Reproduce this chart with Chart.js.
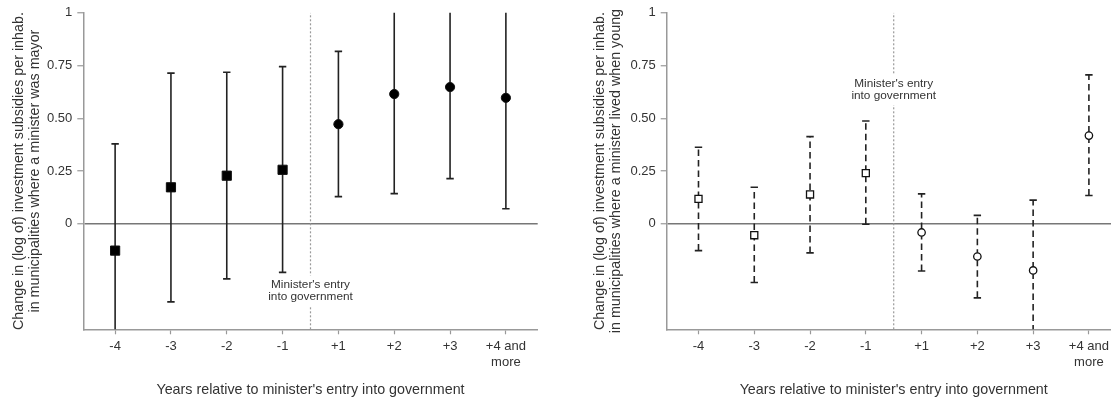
<!DOCTYPE html>
<html><head><meta charset="utf-8">
<script src="https://cdn.jsdelivr.net/npm/chart.js@4.4.1/dist/chart.umd.min.js"></script>
<style>
html,body{margin:0;padding:0;background:#fff;overflow:hidden}
#wrap{position:relative;width:1111px;height:402px;overflow:hidden;background:#fff}
#c1{position:absolute;left:0;top:0}
#c2{position:absolute;left:560px;top:0}
</style></head><body>
<div id="wrap"><canvas id="c1" width="560" height="402"></canvas><canvas id="c2" width="580" height="402"></canvas></div>
<script>
// ---- data ----
const categories = ['-4', '-3', '-2', '-1', '+1', '+2', '+3', ['+4 and', 'more']];
const entryPos = 3.5; // between -1 and +1
const yTicks = [0, 0.25, 0.5, 0.75, 1];
const yTickLabels = ['0', '0.25', '0.50', '0.75', '1'];
const xTitle = "Years relative to minister's entry into government";
const noteLines = ["Minister's entry", 'into government'];

// Panel A: municipalities where a minister was mayor
const mayorTitle = ['Change in (log of) investment subsidies per inhab.', 'in municipalities where a minister was mayor'];
const mayorEst = [-0.127, 0.173, 0.228, 0.256, 0.472, 0.615, 0.648, 0.597];
const mayorLo  = [-0.63, -0.370, -0.261, -0.230, 0.129, 0.143, 0.214, 0.071];
const mayorHi  = [0.379, 0.714, 0.718, 0.745, 0.817, 1.09, 1.08, 1.12];
const mayorNoteY = -0.318;

// Panel B: municipalities where a minister lived when young
const youngTitle = ['Change in (log of) investment subsidies per inhab.', 'in municipalities where a minister lived when young'];
const youngEst = [0.118, -0.054, 0.139, 0.240, -0.041, -0.155, -0.221, 0.418];
const youngLo  = [-0.127, -0.278, -0.138, -0.002, -0.224, -0.351, -0.56, 0.134];
const youngHi  = [0.363, 0.173, 0.413, 0.487, 0.142, 0.040, 0.112, 0.706];
const youngNoteY = 0.636;

// ---- rendering ----
Chart.defaults.font.family = '"Liberation Sans", Arial, Helvetica, sans-serif';
Chart.defaults.font.size = 13;
Chart.defaults.color = '#333';

const notePlugin = {
  id: 'note',
  afterDatasetsDraw(chart, args, opts) {
    const {ctx, scales: {x, y}} = chart;
    const px = x.getPixelForValue(entryPos);
    const py = y.getPixelForValue(opts.y);
    const lh = 11.4;
    ctx.save();
    ctx.font = '11.8px "Liberation Sans", Arial, sans-serif';
    const w = Math.max(...noteLines.map(t => ctx.measureText(t).width));
    ctx.fillStyle = '#fff';
    ctx.fillRect(px - w / 2 - 2, py - lh - 4, w + 4, 2 * lh + 8);
    ctx.fillStyle = '#333';
    ctx.textAlign = 'center';
    ctx.textBaseline = 'middle';
    noteLines.forEach((t, k) => ctx.fillText(t, px, py + (k - 0.5) * lh));
    ctx.restore();
  }
};

function makePanel(canvas, est, lo, hi, cfg) {
  const datasets = [];
  // markers: pre-entry squares, post-entry circles
  datasets.push({
    data: est.map((v, i) => ({x: i, y: v})).filter(p => p.x < entryPos),
    pointStyle: 'rect', pointRadius: cfg.sqR, pointHoverRadius: cfg.sqR,
    pointBackgroundColor: cfg.fill, pointBorderColor: '#111', pointBorderWidth: cfg.mbw,
    showLine: false, order: 0
  });
  datasets.push({
    data: est.map((v, i) => ({x: i, y: v})).filter(p => p.x > entryPos),
    pointStyle: 'circle', pointRadius: cfg.ciR, pointHoverRadius: cfg.ciR,
    pointBackgroundColor: cfg.fill, pointBorderColor: '#111', pointBorderWidth: cfg.mbw,
    showLine: false, order: 0
  });
  // confidence intervals
  categories.forEach((c, i) => {
    datasets.push({
      data: [{x: i, y: lo[i]}, {x: i, y: hi[i]}],
      showLine: true, borderColor: '#222', borderWidth: 1.6, borderDash: cfg.dash,
      pointStyle: 'line', pointRadius: 3.7, pointHoverRadius: 3.7,
      pointBorderColor: '#222', pointBorderWidth: 1.6, order: 1
    });
  });
  // entry line
  datasets.push({
    data: [{x: entryPos, y: -0.5}, {x: entryPos, y: 1}],
    showLine: true, borderColor: '#9a9a9a', borderWidth: 1.2, borderDash: [2, 2],
    pointRadius: 0, order: 3
  });

  return new Chart(canvas, {
    type: 'scatter',
    data: {datasets},
    plugins: [notePlugin],
    options: {
      responsive: false, animation: false, events: [],
      layout: {padding: {top: 10, right: cfg.padRight, bottom: 0, left: 0}},
      plugins: {legend: {display: false}, tooltip: {enabled: false}, note: {y: cfg.noteY}},
      scales: {
        x: {
          type: 'linear', min: -0.57, max: 7.57,
          afterBuildTicks: s => { s.ticks = categories.map((c, i) => ({value: i})); },
          afterFit: s => { s.height = 72.7; },
          ticks: {autoSkip: false, maxRotation: 0, padding: 4.6, color: '#333',
                  callback: v => categories[v]},
          grid: {drawOnChartArea: false, tickLength: 5, tickColor: '#999', tickWidth: 1.2},
          border: {color: '#999', width: 1.5},
          title: {display: true, text: xTitle, color: '#333', font: {size: 14.3},
                  padding: {top: 0, bottom: 3.4}}
        },
        y: {
          min: -0.5, max: 1,
          afterBuildTicks: s => { s.ticks = yTicks.map(v => ({value: v})); },
          afterFit: s => { s.width = cfg.yWidth; },
          ticks: {autoSkip: false, padding: 5, color: '#333',
                  callback: v => yTickLabels[yTicks.indexOf(v)]},
          grid: {drawOnChartArea: true, tickLength: 6, tickColor: '#999', tickWidth: 1.2,
                 lineWidth: 1.5,
                 color: c => (c.tick && c.tick.value === 0) ? '#777' : 'rgba(0,0,0,0)'},
          border: {color: '#999', width: 1.5},
          title: {display: true, text: cfg.title, color: '#333',
                  font: {size: 14.3, lineHeight: 1.1}, padding: {top: cfg.titlePad, bottom: 0}}
        }
      }
    }
  });
}

makePanel(document.getElementById('c1'), mayorEst, mayorLo, mayorHi, {
  title: mayorTitle, yWidth: 83.3, padRight: 22.3, titlePad: 11.2,
  sqR: 6.5, ciR: 4.6, fill: '#000', mbw: 1, dash: [], noteY: mayorNoteY
});
makePanel(document.getElementById('c2'), youngEst, youngLo, youngHi, {
  title: youngTitle, yWidth: 106.7, padRight: 19.3, titlePad: 32.2,
  sqR: 5, ciR: 3.7, fill: '#fff', mbw: 1.3, dash: [6.5, 4], noteY: youngNoteY
});
</script>
</body></html>
